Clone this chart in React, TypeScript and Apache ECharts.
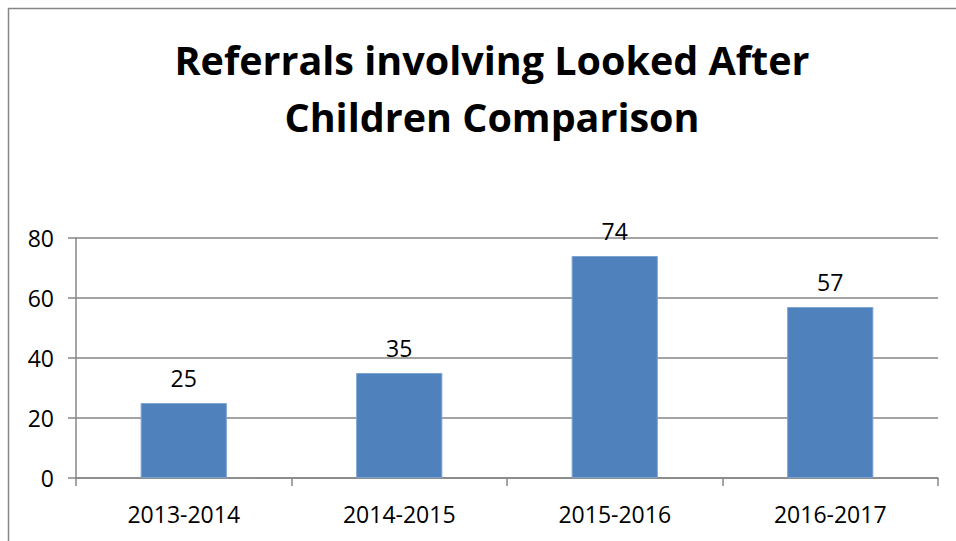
import React, { useEffect, useRef } from "react";
import * as echarts from "echarts";

const categories = ["2013-2014", "2014-2015", "2015-2016", "2016-2017"];
const values = [25, 35, 74, 57];
const titleLines = ["Referrals involving Looked After", "Children Comparison"];
const yTicks = { min: 0, max: 80, interval: 20 };

const FONT = "Open Sans";

export default function App() {
  const ref = useRef<HTMLDivElement>(null);
  useEffect(() => {
    document.body.style.margin = "0";
    const chart = echarts.init(ref.current!, null, { renderer: "svg" });
    chart.setOption({
      animation: false,
      backgroundColor: "#ffffff",
      title: {
        text: titleLines.join("\n"),
        left: 487,
        top: 26,
        textAlign: "center",
        textStyle: {
          fontFamily: FONT,
          fontWeight: "bold",
          fontSize: 39.5,
          lineHeight: 57,
          color: "#000000",
        },
      },
      graphic: [
        {
          type: "polyline",
          shape: { points: [[8.5, 541], [8.5, 8.5], [956, 8.5]] },
          style: { stroke: "#868686", lineWidth: 1.5, fill: "none" },
          silent: true,
        },
      ],
      grid: { left: 76, top: 238, right: 18, bottom: 63 },
      xAxis: {
        type: "category",
        data: categories,
        axisLine: { show: true, lineStyle: { color: "#868686", width: 1.5 } },
        axisTick: { show: true, length: 8, lineStyle: { color: "#868686", width: 1.5 } },
        axisLabel: { fontFamily: FONT, fontSize: 23, color: "#000000", margin: 24 },
      },
      yAxis: {
        type: "value",
        min: yTicks.min,
        max: yTicks.max,
        interval: yTicks.interval,
        axisLine: { show: true, lineStyle: { color: "#868686", width: 1.5 } },
        axisTick: { show: true, length: 8, lineStyle: { color: "#868686", width: 1.5 } },
        splitLine: { show: true, lineStyle: { color: "#868686", width: 1.5 } },
        axisLabel: { fontFamily: FONT, fontSize: 23, color: "#000000", margin: 22 },
      },
      series: [
        {
          type: "bar",
          data: values,
          barWidth: "40%",
          itemStyle: { color: "#4F81BD", borderColor: "#7FA3D0", borderWidth: 1 },
          label: {
            show: true,
            position: "top",
            distance: 14,
            fontFamily: FONT,
            fontSize: 23,
            color: "#000000",
          },
        },
      ],
    });
    return () => chart.dispose();
  }, []);
  return <div ref={ref} style={{ width: 956, height: 541 }} />;
}
